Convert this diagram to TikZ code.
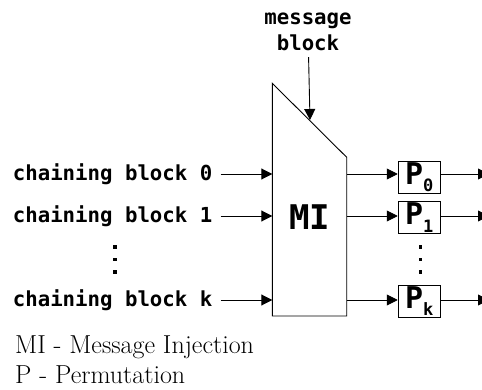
\documentclass[tikz,border=0pt]{standalone}
\usepackage{fontspec}
\setmonofont{DejaVu Sans Mono}
\usepackage{tikz}
\usetikzlibrary{positioning}
\usetikzlibrary{arrows.meta}

\tikzset{
  blk/.style={font=\ttfamily\bfseries\fontsize{20.7}{26}\selectfont, inner sep=1pt},
  perm/.style={draw, line width=0.9pt, minimum width=42pt, minimum height=32pt, inner sep=0pt,
    font=\ttfamily\bfseries\fontsize{30}{30}\selectfont},
  legend/.style={font=\fontsize{26}{30}\selectfont, anchor=west, inner sep=0pt},
  flow/.style={line width=0.9pt, -{Triangle[length=11pt,width=11pt]}}
}
\newcommand{\psub}[1]{P\raisebox{-0.25em}{\fontsize{17}{17}\selectfont #1}}

\begin{document}
\begin{tikzpicture}[x=1pt,y=-1pt]
  \useasboundingbox (0,0) rectangle (482,390);
  % message injection block
  \draw[line width=0.9pt] (272.3,83.3) -- (346.7,157.3) -- (346.7,316) -- (272.3,316) -- cycle;
  \node(mi) at (309.5,217) {\ttfamily\bfseries\fontsize{34}{34}\selectfont MI};
  \coordinate(mb) at (310,120);
  \coordinate(in0) at (272.3,174);
  \coordinate(in1) at (272.3,216);
  \coordinate(ink) at (272.3,300);
  \coordinate(out0) at (346.7,174);
  \coordinate(out1) at (346.7,216);
  \coordinate(outk) at (346.7,300);
  % message
  \node(msg) [blk, align=center] at (308,32) {message\\block};
  \draw[flow, shorten <=5pt] (msg) -- (mb);
  % chaining inputs
  \node(cb0) [blk, anchor=east] at (213.5,174) {chaining block 0};
  \node(cb1) [blk, anchor=east] at (213.5,216) {chaining block 1};
  \node(cbk) [blk, anchor=east] at (213.5,300) {chaining block k};
  \draw[flow, shorten <=7pt] (cb0) -- (in0);
  \draw[flow, shorten <=7pt] (cb1) -- (in1);
  \draw[flow, shorten <=7pt] (cbk) -- (ink);
  % permutations
  \node(p0) [perm] at (419.2,177.2) {\psub{0}};
  \node(p1) [perm] at (419.2,217.5) {\psub{1}};
  \node(pk) [perm] at (419.2,301.2) {\psub{k}};
  \draw[flow] (out0) -- (out0 -| p0.west);
  \draw[flow] (out1) -- (out1 -| p1.west);
  \draw[flow] (outk) -- (outk -| pk.west);
  \coordinate(e0) at (489,174);
  \coordinate(e1) at (489,216);
  \coordinate(ek) at (489,300);
  \draw[flow] (p0.east |- e0) -- (e0);
  \draw[flow] (p1.east |- e1) -- (e1);
  \draw[flow] (pk.east |- ek) -- (ek);
  % vertical dots
  \foreach \x in {115,420.7}
    \foreach \y in {247,259.5,272}
      \fill (\x-1.6,\y-1.6) rectangle (\x+1.6,\y+1.6);
  % legend
  \node(lmi) [legend] at (15,347) {MI - Message Injection};
  \node(lp) [legend] at (15,375) {P - Permutation};
\end{tikzpicture}
\end{document}
